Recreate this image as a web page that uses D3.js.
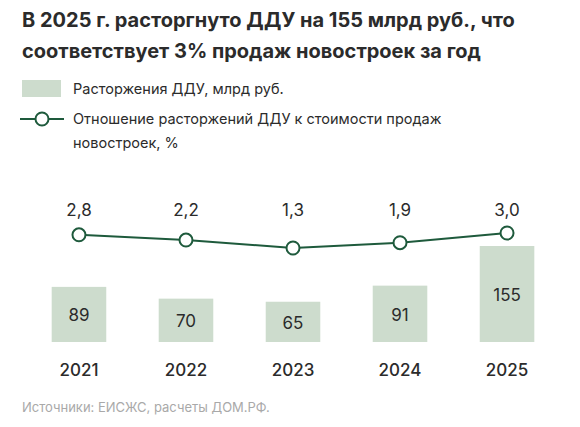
<!doctype html>
<html><head><meta charset="utf-8">
<script src="https://cdn.jsdelivr.net/npm/d3@7/dist/d3.min.js"></script>
<style>body{margin:0;background:#fff;font-family:Inter,"Noto Sans",sans-serif}</style>
</head><body><svg id="c" width="580" height="427"></svg>
<script>
const years = ['2021','2022','2023','2024','2025'];
const terminations = [89, 70, 65, 91, 155];
const shares = [2.8, 2.2, 1.3, 1.9, 3.0];
const shareLabels = ['2,8','2,2','1,3','1,9','3,0'];

const svg = d3.select('#c');
const dark = '#2b2b2b', green = '#1e5a3c', barFill = '#cddccd';

svg.append('text').attr('x',22).attr('y',27).attr('font-size',20).attr('font-weight',700).attr('fill',dark)
  .text('В 2025 г. расторгнуто ДДУ на 155 млрд руб., что');
svg.append('text').attr('x',22).attr('y',58).attr('font-size',20).attr('font-weight',700).attr('fill',dark)
  .text('соответствует 3% продаж новостроек за год');

svg.append('rect').attr('x',22).attr('y',80).attr('width',39).attr('height',17).attr('fill',barFill);
svg.append('text').attr('x',73).attr('y',94).attr('font-size',14.5).attr('fill',dark).text('Расторжения ДДУ, млрд руб.');
svg.append('line').attr('x1',20).attr('x2',64).attr('y1',119).attr('y2',119).attr('stroke',green).attr('stroke-width',2);
svg.append('circle').attr('cx',42).attr('cy',119).attr('r',6.5).attr('fill','#fff').attr('stroke',green).attr('stroke-width',2);
svg.append('text').attr('x',73).attr('y',124).attr('font-size',14.5).attr('fill',dark).text('Отношение расторжений ДДУ к стоимости продаж');
svg.append('text').attr('x',73).attr('y',148).attr('font-size',14.5).attr('fill',dark).text('новостроек, %');

const x = d3.scaleBand().domain(years).range([26, 560]).paddingInner(0.49).paddingOuter(0.24);
const base = 342;
const yb = d3.scaleLinear().domain([0,155]).range([base, 246]);
const yl = d3.scaleLinear().domain([1.3,3.0]).range([248, 233]);

svg.selectAll('rect.bar').data(terminations).join('rect').attr('class','bar')
  .attr('x',(d,i)=>x(years[i])).attr('width',x.bandwidth())
  .attr('y',d=>yb(d)).attr('height',d=>base-yb(d)).attr('fill',barFill);
svg.selectAll('text.bv').data(terminations).join('text').attr('class','bv')
  .attr('x',(d,i)=>x(years[i])+x.bandwidth()/2).attr('y',d=>(yb(d)+base)/2+7)
  .attr('text-anchor','middle').attr('font-size',17).attr('fill',dark).text(d=>d);

const cx = i => x(years[i])+x.bandwidth()/2;
svg.append('path').datum(shares).attr('fill','none').attr('stroke',green).attr('stroke-width',2)
  .attr('d', d3.line().x((d,i)=>cx(i)).y(d=>yl(d)));
svg.selectAll('circle.pt').data(shares).join('circle').attr('class','pt')
  .attr('cx',(d,i)=>cx(i)).attr('cy',d=>yl(d)).attr('r',6.5)
  .attr('fill','#fff').attr('stroke',green).attr('stroke-width',2);
svg.selectAll('text.lv').data(shareLabels).join('text').attr('class','lv')
  .attr('x',(d,i)=>cx(i)).attr('y',216).attr('text-anchor','middle')
  .attr('font-size',17).attr('fill',dark).text(d=>d);

svg.selectAll('text.yr').data(years).join('text').attr('class','yr')
  .attr('x',(d,i)=>cx(i)).attr('y',376).attr('text-anchor','middle')
  .attr('font-size',17).attr('font-weight',500).attr('fill',dark).text(d=>d);

svg.append('text').attr('x',22).attr('y',412).attr('font-size',13).attr('fill','#a9a9a9')
  .text('Источники: ЕИСЖС, расчеты ДОМ.РФ.');
</script></body></html>
